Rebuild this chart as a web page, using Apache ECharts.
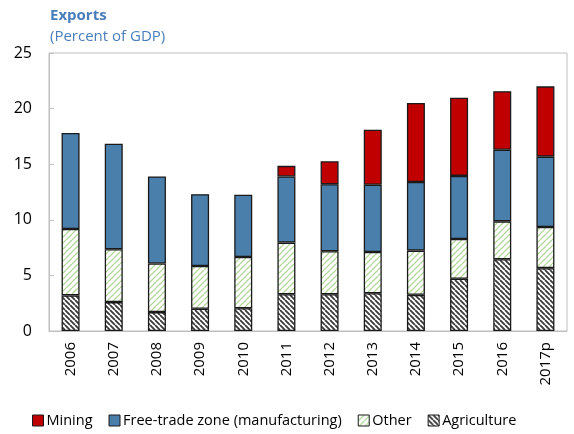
<!DOCTYPE html>
<html>
<head>
<meta charset="utf-8">
<script src="https://cdn.jsdelivr.net/npm/echarts@6/dist/echarts.min.js"></script>
<style>
  html, body { margin: 0; padding: 0; background: #fff; }
  #chart { width: 574px; height: 434px; }
</style>
</head>
<body>
<div id="chart"></div>
<script>
var years = ['2006', '2007', '2008', '2009', '2010', '2011', '2012', '2013', '2014', '2015', '2016', '2017p']
var agriculture = [3.2, 2.6, 1.7, 2.0, 2.05, 3.3, 3.3, 3.4, 3.25, 4.7, 6.45, 5.65]
var other = [5.97, 4.75, 4.37, 3.85, 4.61, 4.65, 3.87, 3.7, 3.98, 3.57, 3.41, 3.7]
var freeTradeZone = [8.63, 9.5, 7.83, 6.45, 5.59, 5.95, 6.03, 6.05, 6.17, 5.68, 6.44, 6.33]
var mining = [null, null, null, null, null, 0.95, 2.06, 4.95, 7.1, 7.02, 5.27, 6.32]
var yTicks = [0, 5, 10, 15, 20, 25]

// hatch fill, dir 1 = '/', -1 = '\'
function hatch(color, dir, size, width) {
  var c = document.createElement('canvas')
  c.width = size
  c.height = size
  var ctx = c.getContext('2d')
  ctx.fillStyle = '#fff'
  ctx.fillRect(0, 0, size, size)
  ctx.strokeStyle = color
  ctx.lineWidth = width
  ctx.beginPath()
  for (var k = -1; k <= 1; k++) {
    if (dir > 0) {
      ctx.moveTo(k * size, size)
      ctx.lineTo(k * size + size, 0)
    } else {
      ctx.moveTo(k * size, 0)
      ctx.lineTo(k * size + size, size)
    }
  }
  ctx.stroke()
  return { image: c, repeat: 'repeat' }
}

var font = '"Open Sans", "Noto Sans", sans-serif'
var chart = echarts.init(document.getElementById('chart'))

function barSeries(name, data, color) {
  return {
    name: name,
    type: 'bar',
    stack: 'total',
    barWidth: 18,
    data: data,
    itemStyle: { color: color, borderColor: '#1a1a1a', borderWidth: 1.3 },
    animation: false
  }
}

chart.setOption({
  textStyle: { fontFamily: font },
  title: {
    text: 'Exports',
    subtext: '(Percent of GDP)',
    left: 45,
    top: 3,
    itemGap: 6,
    textStyle: { fontSize: 15, fontWeight: 'bold', color: '#4a7ebb', fontFamily: font },
    subtextStyle: { fontSize: 15, color: '#4a7ebb', fontFamily: font }
  },
  grid: {
    left: 49,
    right: 7,
    top: 53,
    bottom: 103,
    show: true,
    borderColor: '#bfbfbf',
    borderWidth: 1
  },
  legend: {
    bottom: 1,
    left: 27,
    itemWidth: 11,
    itemHeight: 11,
    itemGap: 16,
    icon: 'rect',
    data: ['Mining', 'Free-trade zone (manufacturing)', 'Other', 'Agriculture'],
    textStyle: { fontSize: 14.5, color: '#000', fontFamily: font, padding: [0, 0, 0, -2] },
    itemStyle: { borderColor: '#1a1a1a', borderWidth: 1 }
  },
  xAxis: {
    type: 'category',
    data: years,
    axisLine: { lineStyle: { color: '#bfbfbf', width: 1 } },
    axisTick: { inside: true, length: 5, lineStyle: { color: '#bfbfbf' } },
    axisLabel: { rotate: 90, fontSize: 15, color: '#000', margin: 11, fontFamily: font }
  },
  yAxis: {
    type: 'value',
    min: yTicks[0],
    max: yTicks[yTicks.length - 1],
    interval: 5,
    axisLine: { show: true, lineStyle: { color: '#bfbfbf' } },
    axisTick: { show: true, inside: true, length: 5, lineStyle: { color: '#bfbfbf' } },
    splitLine: { show: false },
    axisLabel: { fontSize: 16, color: '#000', margin: 17, fontFamily: font }
  },
  series: [
    barSeries('Agriculture', agriculture, hatch('#3a3a3a', -1, 5, 1.8)),
    barSeries('Other', other, hatch('#b3d69a', 1, 6, 1.3)),
    barSeries('Free-trade zone (manufacturing)', freeTradeZone, '#4a7eab'),
    barSeries('Mining', mining, '#c00000')
  ]
})
</script>
</body>
</html>
